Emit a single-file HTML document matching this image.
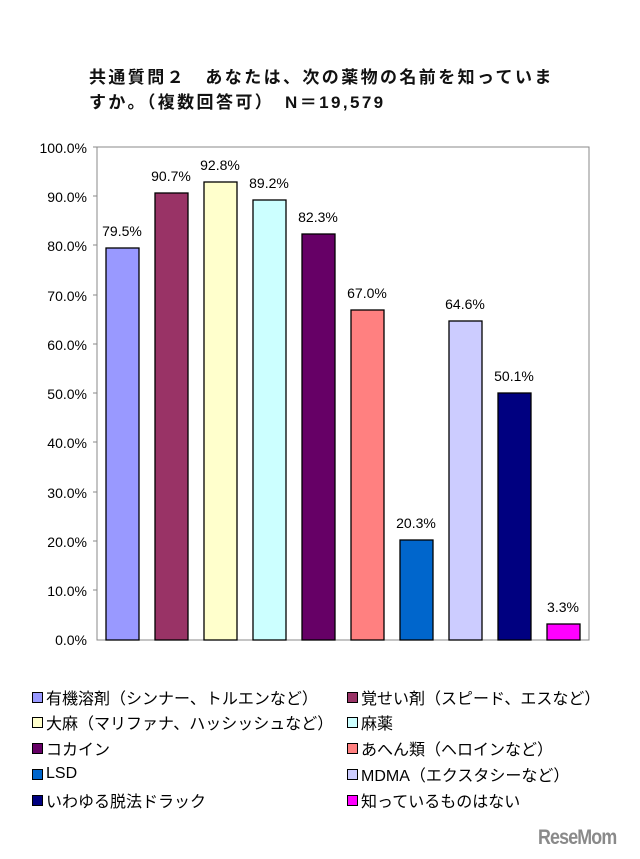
<!DOCTYPE html>
<html><head><meta charset="utf-8"><style>
body{margin:0;background:#fff;width:640px;height:859px;overflow:hidden;position:relative;font-family:"Liberation Sans","Noto Sans CJK JP",sans-serif}
.t{position:absolute;left:89px;font-size:17px;font-weight:bold;color:#111;white-space:nowrap;letter-spacing:2.4px}
.lg{position:absolute;font-size:16px;white-space:nowrap;color:#000;display:flex;align-items:center;height:20px}
.lg i{display:inline-block;width:9px;height:9px;border:1px solid #000;margin-right:3px;flex:none}
</style></head><body>
<div class="t" style="top:63px">共通質問２　あなたは、次の薬物の名前を知っていま</div>
<div class="t" style="top:88px">すか。（複数回答可）　N＝19,579</div>
<svg width="640" height="680" style="position:absolute;left:0;top:0" font-family="Liberation Sans, sans-serif">
<rect x="97" y="147" width="492" height="493" fill="#fff" stroke="#888" stroke-width="1"/>
<g font-size="14" text-anchor="end" fill="#000">
<text x="87" y="153">100.0%</text><text x="87" y="202">90.0%</text><text x="87" y="251">80.0%</text><text x="87" y="301">70.0%</text><text x="87" y="350">60.0%</text><text x="87" y="399">50.0%</text><text x="87" y="448">40.0%</text><text x="87" y="498">30.0%</text><text x="87" y="547">20.0%</text><text x="87" y="596">10.0%</text><text x="87" y="645">0.0%</text>
</g>
<g stroke="#888"><line x1="93" y1="147" x2="97" y2="147"/><line x1="93" y1="196" x2="97" y2="196"/><line x1="93" y1="245" x2="97" y2="245"/><line x1="93" y1="295" x2="97" y2="295"/><line x1="93" y1="344" x2="97" y2="344"/><line x1="93" y1="393" x2="97" y2="393"/><line x1="93" y1="442" x2="97" y2="442"/><line x1="93" y1="492" x2="97" y2="492"/><line x1="93" y1="541" x2="97" y2="541"/><line x1="93" y1="590" x2="97" y2="590"/></g>
<g stroke="#000" stroke-width="1.3">
<rect x="106" y="248" width="33" height="392" fill="#9999ff"/>
<rect x="155" y="193" width="33" height="447" fill="#993366"/>
<rect x="204" y="182" width="33" height="458" fill="#ffffcc"/>
<rect x="253" y="200" width="33" height="440" fill="#ccffff"/>
<rect x="302" y="234" width="33" height="406" fill="#660066"/>
<rect x="351" y="310" width="33" height="330" fill="#ff8080"/>
<rect x="400" y="540" width="33" height="100" fill="#0066cc"/>
<rect x="449" y="321" width="33" height="319" fill="#ccccff"/>
<rect x="498" y="393" width="33" height="247" fill="#000080"/>
<rect x="547" y="624" width="33" height="16" fill="#ff00ff"/>
</g>
<g font-size="14" text-anchor="middle" fill="#000">
<text x="122" y="236">79.5%</text><text x="171" y="181">90.7%</text><text x="220" y="170">92.8%</text><text x="269" y="188">89.2%</text><text x="318" y="222">82.3%</text><text x="367" y="298">67.0%</text><text x="416" y="528">20.3%</text><text x="465" y="309">64.6%</text><text x="514" y="381">50.1%</text><text x="563" y="612">3.3%</text>
</g>
</svg>
<div class="lg" style="left:32px;top:687px"><i style="background:#9999ff"></i>有機溶剤（シンナー、トルエンなど）</div>
<div class="lg" style="left:347px;top:687px"><i style="background:#993366"></i>覚せい剤（スピード、エスなど）</div>
<div class="lg" style="left:32px;top:712px"><i style="background:#ffffcc"></i>大麻（マリファナ、ハッシッシュなど）</div>
<div class="lg" style="left:347px;top:712px"><i style="background:#ccffff"></i>麻薬</div>
<div class="lg" style="left:32px;top:738px"><i style="background:#660066"></i>コカイン</div>
<div class="lg" style="left:347px;top:738px"><i style="background:#ff8080"></i>あへん類（ヘロインなど）</div>
<div class="lg" style="left:32px;top:764px"><i style="background:#0066cc"></i>LSD</div>
<div class="lg" style="left:347px;top:764px"><i style="background:#ccccff"></i>MDMA（エクスタシーなど）</div>
<div class="lg" style="left:32px;top:790px"><i style="background:#000080"></i>いわゆる脱法ドラック</div>
<div class="lg" style="left:347px;top:790px"><i style="background:#ff00ff"></i>知っているものはない</div>
<div style="position:absolute;left:538px;top:826px;font-size:21px;font-weight:bold;color:#8a8a8a;letter-spacing:-1px;transform:scaleX(0.85);transform-origin:left">ReseMom</div>
</body></html>
